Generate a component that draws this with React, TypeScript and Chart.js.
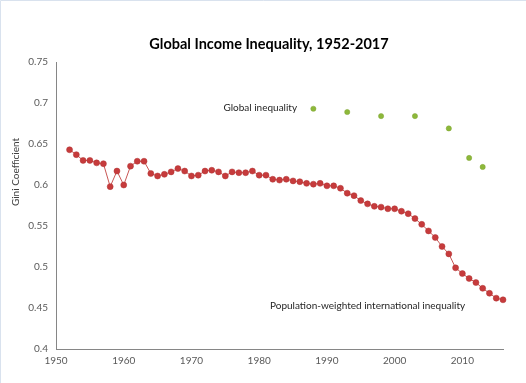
import React, { useEffect, useRef } from 'react';
import { Chart, registerables } from 'chart.js';
Chart.register(...registerables);

const years = [
  1952, 1953, 1954, 1955, 1956, 1957, 1958, 1959, 1960, 1961,
  1962, 1963, 1964, 1965, 1966, 1967, 1968, 1969, 1970, 1971,
  1972, 1973, 1974, 1975, 1976, 1977, 1978, 1979, 1980, 1981,
  1982, 1983, 1984, 1985, 1986, 1987, 1988, 1989, 1990, 1991,
  1992, 1993, 1994, 1995, 1996, 1997, 1998, 1999, 2000, 2001,
  2002, 2003, 2004, 2005, 2006, 2007, 2008, 2009, 2010, 2011,
  2012, 2013, 2014, 2015, 2016,
];
const popWeighted = [
  0.643, 0.637, 0.630, 0.630, 0.627, 0.626, 0.598, 0.617, 0.600, 0.623,
  0.629, 0.629, 0.614, 0.611, 0.613, 0.616, 0.620, 0.617, 0.611, 0.612,
  0.617, 0.618, 0.616, 0.611, 0.616, 0.615, 0.615, 0.617, 0.612, 0.612,
  0.607, 0.606, 0.607, 0.605, 0.604, 0.602, 0.601, 0.602, 0.599, 0.599,
  0.596, 0.590, 0.587, 0.581, 0.577, 0.574, 0.573, 0.571, 0.571, 0.568,
  0.565, 0.559, 0.552, 0.544, 0.536, 0.525, 0.516, 0.499, 0.492, 0.486,
  0.481, 0.474, 0.468, 0.462, 0.460,
];
const globalYears = [1988, 1993, 1998, 2003, 2008, 2011, 2013];
const globalValues = [0.693, 0.689, 0.684, 0.684, 0.669, 0.633, 0.622];

const titleText = 'Global Income Inequality, 1952-2017';
const yAxisTitle = 'Gini Coefficient';
const globalLabel = 'Global inequality';
const popLabel = 'Population-weighted international inequality';

const FONT = 'Lato, "Liberation Sans", sans-serif';

export default function App() {
  const ref = useRef<HTMLCanvasElement | null>(null);

  useEffect(() => {
    document.body.style.margin = '0';
    const canvas = ref.current;
    if (!canvas) return;

    const textPlugin = {
      id: 'textPlugin',
      beforeDraw(chart: any) {
        const ctx = chart.ctx;
        ctx.save();
        ctx.fillStyle = '#ffffff';
        ctx.fillRect(0, 0, chart.width, chart.height);
        ctx.strokeStyle = '#d9e2ee';
        ctx.lineWidth = 1;
        ctx.beginPath();
        ctx.moveTo(0.5, chart.height);
        ctx.lineTo(0.5, 0.5);
        ctx.lineTo(chart.width, 0.5);
        ctx.stroke();
        ctx.restore();
      },
      afterDraw(chart: any) {
        const ctx = chart.ctx;
        const xs = chart.scales.x;
        const ys = chart.scales.y;
        ctx.save();
        ctx.fillStyle = '#000000';
        ctx.font = `bold 14.5px ${FONT}`;
        ctx.textAlign = 'center';
        ctx.textBaseline = 'middle';
        ctx.fillText(titleText, 269, 44);

        ctx.fillStyle = '#404040';
        ctx.font = `10px ${FONT}`;
        ctx.save();
        ctx.translate(16, 172);
        ctx.rotate(-Math.PI / 2);
        ctx.fillText(yAxisTitle, 0, 0);
        ctx.restore();

        ctx.fillStyle = '#262626';
        ctx.font = `10px ${FONT}`;
        ctx.textAlign = 'right';
        ctx.fillText(globalLabel, xs.getPixelForValue(1985.6), ys.getPixelForValue(0.694));
        ctx.textAlign = 'left';
        ctx.fillText(popLabel, xs.getPixelForValue(1981.6), ys.getPixelForValue(0.4525));
        ctx.restore();
      },
    };

    const chart = new Chart(canvas, {
      type: 'scatter',
      data: {
        datasets: [
          {
            label: 'Population-weighted',
            data: years.map((y, i) => ({ x: y, y: popWeighted[i] })),
            showLine: true,
            borderColor: '#c95755',
            borderWidth: 1,
            backgroundColor: '#c0393b',
            pointBackgroundColor: '#c63b3c',
            pointBorderColor: '#b03233',
            pointBorderWidth: 0.5,
            pointRadius: 3,
            clip: false,
          } as any,
          {
            label: 'Global',
            data: globalYears.map((y, i) => ({ x: y, y: globalValues[i] })),
            showLine: false,
            backgroundColor: '#8db83a',
            pointBackgroundColor: '#8db83a',
            pointBorderColor: '#7ea532',
            pointBorderWidth: 0.5,
            pointRadius: 2.6,
            clip: false,
          } as any,
        ],
      },
      options: {
        responsive: false,
        animation: false,
        layout: { padding: { top: 62, right: 23, left: 0, bottom: 0 }, autoPadding: false } as any,
        plugins: {
          legend: { display: false },
          title: { display: false },
          tooltip: { enabled: false },
        },
        scales: {
          x: {
            type: 'linear',
            min: 1950,
            max: 2016,
            grid: { display: false, drawTicks: false },
            border: { display: true, color: '#868686', width: 1 },
            ticks: {
              stepSize: 10,
              padding: 6,
              color: '#595959',
              font: { family: FONT, size: 10 },
              maxRotation: 0,
              callback: (v: any) => String(v),
            },
            afterBuildTicks: (scale: any) => {
              scale.ticks = scale.ticks.filter((t: any) => t.value % 10 === 0);
            },
            afterFit: (scale: any) => {
              scale.height = 34;
            },
          },
          y: {
            type: 'linear',
            min: 0.4,
            max: 0.75,
            grid: { display: false, drawTicks: false },
            border: { display: true, color: '#868686', width: 1 },
            ticks: {
              stepSize: 0.05,
              padding: 8,
              color: '#595959',
              font: { family: FONT, size: 10 },
              callback: (v: any) => String(Number(Number(v).toFixed(2))),
            },
            afterFit: (scale: any) => {
              scale.width = 56;
            },
          },
        },
      },
      plugins: [textPlugin],
    });

    return () => chart.destroy();
  }, []);

  return (
    <div style={{ position: 'absolute', left: 0, top: 0, width: 526, height: 383 }}>
      <canvas ref={ref} width={526} height={383} style={{ display: 'block' }} />
    </div>
  );
}
